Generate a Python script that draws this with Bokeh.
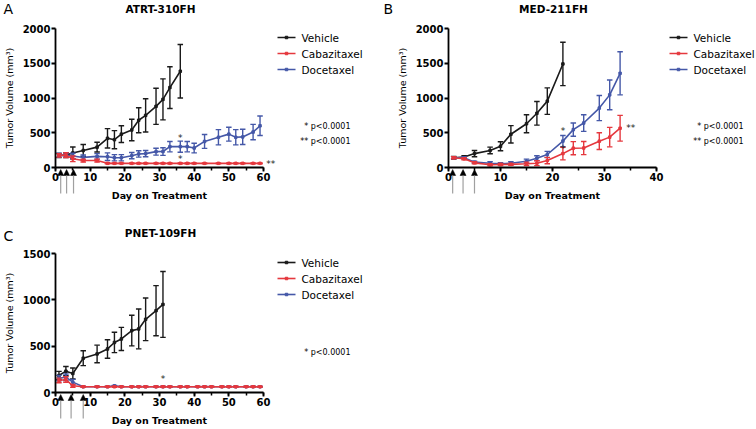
import numpy as np
from bokeh.plotting import figure
from bokeh.layouts import column, row
from bokeh.models import (Range1d, SingleIntervalTicker, Label, Arrow, NormalHead,
                          ColumnDataSource)
from bokeh.embed import file_html
from bokeh.resources import INLINE

# ---------------- data ----------------
series_names = ["Vehicle", "Cabazitaxel", "Docetaxel"]
pvalue_texts_ab = ["* p<0.0001", "** p<0.0001"]
pvalue_texts_c = ["* p<0.0001"]

# Panel A : ATRT-310FH
a_days_veh = [1, 3, 5, 8, 12, 15, 17, 19, 22, 24, 26, 29, 31, 33, 36]
a_veh = [172, 178, 210, 245, 293, 420, 400, 480, 540, 680, 750, 880, 980, 1150, 1385]
a_veh_err = [30, 35, 85, 85, 70, 140, 130, 120, 155, 180, 240, 260, 295, 300, 385]
a_days_trt = [1, 3, 5, 8, 12, 15, 17, 19, 22, 24, 26, 29, 31, 33, 36, 38, 40, 43, 47, 50, 52, 54, 57, 59]
a_doc = [175, 178, 165, 145, 160, 155, 140, 140, 170, 195, 200, 228, 230, 300, 300, 300, 280,
         375, 435, 480, 435, 440, 510, 600]
a_doc_err = [30, 30, 40, 35, 40, 55, 45, 45, 45, 45, 45, 50, 55, 75, 80, 75, 70, 100, 110, 100,
             110, 110, 110, 140]
a_cab = [175, 178, 125, 100, 100, 60, 60, 60, 60, 60, 60, 60, 60, 60, 60, 60, 60, 60, 60, 60,
         60, 60, 60, 60]
a_cab_err = [25, 35, 40, 20, 20, 8, 5, 5, 5, 5, 5, 5, 5, 5, 5, 5, 5, 5, 5, 5, 5, 5, 5, 5]
a_dose_days = [1.5, 3.2, 5.2]

# Panel B : MED-211FH
b_days_veh = [1, 3, 5, 8, 10, 12, 15, 17, 19, 22]
b_veh = [140, 150, 200, 245, 305, 478, 630, 780, 955, 1490]
b_veh_err = [20, 20, 45, 48, 65, 125, 130, 170, 190, 312]
b_days_trt = [1, 3, 5, 8, 10, 12, 15, 17, 19, 22, 24, 26, 29, 31, 33]
b_doc = [140, 140, 77, 62, 53, 62, 91, 134, 187, 380, 545, 640, 855, 1045, 1355]
b_doc_err = [15, 15, 15, 20, 15, 20, 30, 35, 45, 80, 95, 120, 180, 215, 310]
b_cab = [140, 125, 67, 40, 43, 45, 53, 62, 100, 200, 278, 280, 379, 437, 565]
b_cab_err = [15, 15, 15, 15, 15, 15, 25, 35, 45, 90, 95, 95, 120, 140, 185]
b_dose_days = [0.8, 2.8, 5.0]

# Panel C : PNET-109FH
c_days_veh = [1, 3, 5, 8, 12, 15, 17, 19, 22, 24, 26, 29, 31]
c_veh = [183, 230, 205, 370, 416, 470, 540, 578, 668, 686, 790, 883, 950]
c_veh_err = [45, 50, 60, 80, 95, 100, 110, 125, 165, 215, 230, 270, 355]
c_days_trt = [1, 3, 5, 8, 12, 15, 17, 19, 22, 24, 26, 29, 31, 33, 36, 38, 41, 43, 45, 48, 50,
              52, 55, 57, 59]
c_doc = [155, 165, 112, 62, 62, 62, 72, 62, 62, 62, 62, 62, 62, 62, 62, 62, 62, 62, 62, 62, 62,
         62, 62, 62, 62]
c_doc_err = [30, 35, 30, 5, 5, 5, 5, 5, 5, 5, 5, 5, 5, 5, 5, 5, 5, 5, 5, 5, 5, 5, 5, 5, 5]
c_cab = [130, 140, 72, 62, 62, 62, 62, 62, 62, 62, 62, 62, 62, 62, 62, 62, 62, 62, 62, 62, 62,
         62, 62, 62, 62]
c_cab_err = [25, 30, 15, 5, 5, 5, 5, 5, 5, 5, 5, 5, 5, 5, 5, 5, 5, 5, 5, 5, 5, 5, 5, 5, 5]
c_dose_days = [1.5, 4.5, 8.0]

# ---------------- style ----------------
BLACK = "#1a1a1a"
RED = "#e5383e"
BLUE = "#4558a8"
FONT = "DejaVu Sans"


class Panel:
    """A figure whose frame fills the whole canvas; the axes are pinned at 0."""

    def __init__(self, fig_left, fig_top, w, h, L, R, T, B, xmax, ymax):
        self.L, self.R, self.T, self.B = L, R, T, B
        self.xmax, self.ymax = xmax, ymax
        x0, x1 = self.dx(fig_left), self.dx(fig_left + w)
        y1, y0 = self.dy(fig_top), self.dy(fig_top + h)
        p = figure(width=w, height=h, x_range=Range1d(x0, x1), y_range=Range1d(y0, y1),
                   output_backend="svg", toolbar_location=None, min_border=0,
                   min_border_left=0, min_border_right=0, min_border_top=0, min_border_bottom=0)
        p.title.visible = False
        p.outline_line_color = None
        p.xgrid.visible = False
        p.ygrid.visible = False
        p.background_fill_color = "white"
        p.border_fill_color = "white"
        p.xaxis.ticker = SingleIntervalTicker(interval=10, num_minor_ticks=2)
        p.yaxis.ticker = SingleIntervalTicker(interval=500, num_minor_ticks=0)
        p.xaxis.fixed_location = 0
        p.yaxis.fixed_location = 0
        p.xaxis.bounds = (0, xmax)
        p.yaxis.bounds = (0, ymax)
        for ax in (p.xaxis[0], p.yaxis[0]):
            ax.axis_line_width = 1.8
            ax.axis_line_color = "black"
            ax.major_tick_line_width = 1.8
            ax.major_tick_line_color = "black"
            ax.major_tick_out = 4
            ax.major_tick_in = 0
            ax.major_label_text_font = FONT
            ax.major_label_text_font_style = "bold"
            ax.major_label_text_font_size = "10px"
            ax.major_label_text_color = "black"
            ax.major_label_standoff = 1
            ax.axis_label_text_font = FONT
            ax.axis_label_text_font_size = "9.5px"
            ax.axis_label_text_color = "black"
        p.xaxis.minor_tick_line_width = 1.5
        p.xaxis.minor_tick_line_color = "black"
        p.xaxis.minor_tick_out = 3
        p.xaxis.minor_tick_in = 0
        p.yaxis.minor_tick_line_color = None
        p.xaxis.axis_label = "Day on Treatment"
        p.xaxis.axis_label_text_font_style = "bold"
        p.xaxis.axis_label_standoff = 6
        p.yaxis.axis_label = "Tumor Volume (mm\u00b3)"
        p.yaxis.axis_label_text_font_style = "normal"
        p.yaxis.axis_label_standoff = 5
        self.p = p

    # window pixel -> data coordinate
    def dx(self, X):
        return (X - self.L) * self.xmax / (self.R - self.L)

    def dy(self, Y):
        return (self.B - Y) * self.ymax / (self.B - self.T)

    def series(self, days, vals, errs, col):
        p = self.p
        d = np.array(days, float)
        v = np.array(vals, float)
        e = np.array(errs, float)
        src = ColumnDataSource(dict(x=d, y=v, lo=v - e, hi=v + e))
        p.segment(x0="x", y0="lo", x1="x", y1="hi", source=src, line_color=col, line_width=1.4)
        p.scatter(x="x", y="lo", marker="dash", size=5.5, line_color=col, line_width=1.4, source=src)
        p.scatter(x="x", y="hi", marker="dash", size=5.5, line_color=col, line_width=1.4, source=src)
        p.line(x="x", y="y", source=src, line_color=col, line_width=1.6)
        p.scatter(x="x", y="y", marker="square", size=2.5, fill_color=col, line_color=col, source=src)

    def all_series(self, dv, veh, veh_e, dt, cab, cab_e, doc, doc_e):
        self.series(dv, veh, veh_e, BLACK)
        self.series(dt, doc, doc_e, BLUE)
        self.series(dt, cab, cab_e, RED)

    def legend(self, x_line, y_first, pitch=16):
        p = self.p
        cols = [BLACK, RED, BLUE]
        ys = [self.dy(y_first + pitch * i) for i in range(3)]
        src = ColumnDataSource(dict(x0=[self.dx(x_line)] * 3, x1=[self.dx(x_line + 18)] * 3,
                                    xm=[self.dx(x_line + 9)] * 3, y=ys, c=cols))
        p.segment(x0="x0", y0="y", x1="x1", y1="y", line_color="c", line_width=1.6, source=src)
        p.scatter(x="xm", y="y", marker="square", size=2.5, fill_color="c", line_color="c", source=src)
        for name, y in zip(series_names, ys):
            p.add_layout(Label(x=self.dx(x_line + 24), y=y, text=name, text_font=FONT,
                               text_font_size="10.5px", text_align="left",
                               text_baseline="middle", text_color="black"))

    def arrows(self, days):
        y_tip = self.dy(self.B + 2)
        y_tail = self.dy(self.B + 26)
        for d in days:
            self.p.add_layout(Arrow(end=NormalHead(size=6, fill_color="black", line_color="black",
                                                   line_width=0.5),
                                    x_start=d, y_start=y_tail, x_end=d, y_end=y_tip,
                                    line_color="#a0a0a0", line_width=1.2))

    def text(self, t, X, Y, size, style="normal", align="left"):
        self.p.add_layout(Label(x=self.dx(X), y=self.dy(Y), text=t, text_font=FONT,
                                text_font_size=size, text_font_style=style, text_align=align,
                                text_baseline="middle", text_color="black"))

    def star(self, t, x, y, align="center"):
        self.p.add_layout(Label(x=x, y=y, text=t, text_font=FONT, text_font_size="9px",
                                text_align=align, text_baseline="middle", text_color="#222222",
                                y_offset=-2))


# ---------------- Panel A ----------------
A = Panel(0, 0, 378, 202, 55, 263, 28, 167, 60, 2000)
A.all_series(a_days_veh, a_veh, a_veh_err, a_days_trt, a_cab, a_cab_err, a_doc, a_doc_err)
A.legend(277, 37)
A.arrows(a_dose_days)
A.text("A", 3, 8.5, "14px")
A.text("ATRT-310FH", 160, 8.5, "10.5px", "bold", "center")
A.text(pvalue_texts_ab[0], 350, 126, "8px", align="right")
A.text(pvalue_texts_ab[1], 350, 141, "8px", align="right")
A.star("*", 36, 456)
A.star("*", 36, 144)
A.star("**", 60.8, 82, "left")

# ---------------- Panel B ----------------
B = Panel(378, 0, 378, 202, 448, 656, 28, 167, 40, 2000)
B.all_series(b_days_veh, b_veh, b_veh_err, b_days_trt, b_cab, b_cab_err, b_doc, b_doc_err)
B.legend(669, 37)
B.arrows(b_dose_days)
B.text("B", 383, 8.5, "14px")
B.text("MED-211FH", 553, 8.5, "10.5px", "bold", "center")
B.text(pvalue_texts_ab[0], 743, 126, "8px", align="right")
B.text(pvalue_texts_ab[1], 743, 141, "8px", align="right")
B.star("*", 22, 550)
B.star("*", 22, 300)
B.star("**", 34.2, 600, "left")

# ---------------- Panel C ----------------
C = Panel(0, 202, 378, 227, 55, 263, 253, 392, 60, 1500)
C.all_series(c_days_veh, c_veh, c_veh_err, c_days_trt, c_cab, c_cab_err, c_doc, c_doc_err)
C.legend(277, 262)
C.arrows(c_dose_days)
C.text("C", 3, 235, "14px")
C.text("PNET-109FH", 160, 232, "10.5px", "bold", "center")
C.text(pvalue_texts_c[0], 350, 352, "8px", align="right")
C.star("*", 31, 165)

layout = column(row(A.p, B.p), C.p)
open("out.html", "w").write(file_html(layout, INLINE))
